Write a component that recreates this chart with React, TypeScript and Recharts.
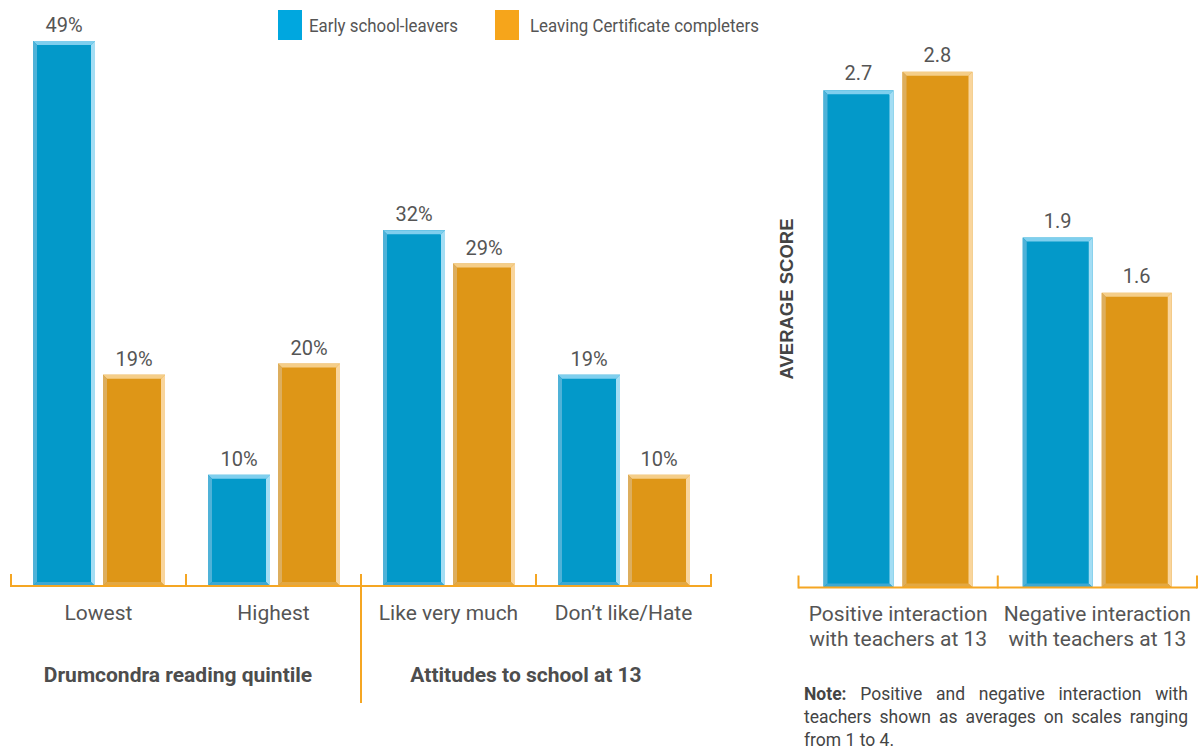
import React from 'react';
import { BarChart, Bar, XAxis, YAxis, LabelList } from 'recharts';

// ---------- data ----------
const leftCategories = ['Lowest', 'Highest', 'Like very much', 'Don\u2019t like/Hate'];
const leftEarly = [49, 10, 32, 19];
const leftLeaving = [19, 20, 29, 10];
const groupLabels = ['Drumcondra reading quintile', 'Attitudes to school at 13'];

const rightCategories = ['Positive interaction\nwith teachers at 13', 'Negative interaction\nwith teachers at 13'];
const rightEarly = [2.7, 1.9];
const rightLeaving = [2.8, 1.6];

const seriesNames = ['Early school-leavers', 'Leaving Certificate completers'];
const yLabelRight = 'AVERAGE SCORE';
const noteBold = 'Note:';
const noteText = ' Positive and negative interaction with teachers shown as averages on scales ranging from 1 to 4.';

const leftData = leftCategories.map((c, i) => ({ name: c, early: leftEarly[i], leaving: leftLeaving[i] }));
const rightData = rightCategories.map((c, i) => ({ name: c, early: rightEarly[i], leaving: rightLeaving[i] }));

// ---------- styles ----------
const FONT = 'Roboto, "Noto Sans", sans-serif';
const TEXT = '#555555';
const AXIS = '#F5A623';
const BLUE = { main: '#0399C9', top: '#7FCFEE', right: '#A3DDF4', left: '#4FB2D8', bottom: '#3DA8D3', legend: '#00A7DF' };
const ORANGE = { main: '#DE9617', top: '#F5CE89', right: '#F9D59C', left: '#DDAE5E', bottom: '#E3A843', legend: '#F6A51B' };

const makeBevel = (c: typeof BLUE) => (props: any) => {
  const { x, y, width: w, height: h } = props;
  if (!h || h <= 0) return null;
  const b = 4;
  return (
    <g>
      <rect x={x} y={y} width={w} height={h} fill={c.main} />
      <polygon points={`${x},${y} ${x + w},${y} ${x + w - b},${y + b} ${x + b},${y + b}`} fill={c.top} />
      <polygon points={`${x},${y} ${x + b},${y + b} ${x + b},${y + h - b} ${x},${y + h}`} fill={c.left} />
      <polygon points={`${x + w},${y} ${x + w},${y + h} ${x + w - b},${y + h - b} ${x + w - b},${y + b}`} fill={c.right} />
      <polygon points={`${x},${y + h} ${x + w},${y + h} ${x + w - b},${y + h - b} ${x + b},${y + h - b}`} fill={c.bottom} />
    </g>
  );
};
const BlueBar = makeBevel(BLUE);
const OrangeBar = makeBevel(ORANGE);

const boundaryLines = (props: any, dividerIndex: number | null) => {
  const { x, y, payload, index, visibleTicksCount, width } = props;
  const off = payload && payload.offset != null ? payload.offset : width / visibleTicksCount / 2;
  const els: any[] = [];
  els.push(
    <line key="l" x1={x - off} x2={x - off} y1={y - 12} y2={index === dividerIndex ? y + 117 : y + 1} stroke={AXIS} strokeWidth={2} />
  );
  if (index === visibleTicksCount - 1) {
    els.push(<line key="r" x1={x + off} x2={x + off} y1={y - 12} y2={y + 1} stroke={AXIS} strokeWidth={2} />);
  }
  return els;
};

const LeftTick = (props: any) => {
  const { x, y, payload } = props;
  return (
    <g>
      {boundaryLines(props, 2)}
      <text x={x} y={y + 34} textAnchor="middle" fontFamily={FONT} fontSize={21} fill={TEXT}>
        {payload.value}
      </text>
    </g>
  );
};

const RightTick = (props: any) => {
  const { x, y, payload } = props;
  const lines = String(payload.value).split('\n');
  return (
    <g>
      {boundaryLines(props, null)}
      <text textAnchor="middle" fontFamily={FONT} fontSize={21} fill={TEXT}>
        {lines.map((l, i) => (
          <tspan key={i} x={x} y={y + 33 + i * 25.5}>{l}</tspan>
        ))}
      </text>
    </g>
  );
};

const labelStyle = { fontFamily: FONT, fontSize: 20, fill: TEXT };

export default function App() {
  return (
    <div style={{ position: 'absolute', left: 0, top: 0, width: 1200, height: 748, background: '#fff', overflow: 'hidden' }}>
      {/* Left chart */}
      <div style={{ position: 'absolute', left: 0, top: 0 }}>
        <BarChart
          width={720}
          height={748}
          data={leftData}
          margin={{ top: 30, right: 9, left: 11, bottom: 132 }}
          barSize={62}
          barGap={8}
        >
          <XAxis
            dataKey="name"
            height={30}
            axisLine={{ stroke: AXIS, strokeWidth: 2 }}
            tickLine={false}
            tickSize={0}
            tickMargin={0}
            interval={0}
            tick={<LeftTick />}
          />
          <YAxis hide domain={[0, 50]} />
          <Bar dataKey="early" name={seriesNames[0]} shape={BlueBar} isAnimationActive={false}>
            <LabelList dataKey="early" position="top" offset={9} formatter={(v: any) => `${v}%`} style={labelStyle} />
          </Bar>
          <Bar dataKey="leaving" name={seriesNames[1]} shape={OrangeBar} isAnimationActive={false}>
            <LabelList dataKey="leaving" position="top" offset={9} formatter={(v: any) => `${v}%`} style={labelStyle} />
          </Bar>
        </BarChart>
      </div>

      {/* Right chart */}
      <div style={{ position: 'absolute', left: 720, top: 0 }}>
        <BarChart
          width={480}
          height={748}
          data={rightData}
          margin={{ top: 35, right: 3, left: 78.5, bottom: 130.5 }}
          barSize={70}
          barGap={9}
        >
          <XAxis
            dataKey="name"
            height={30}
            axisLine={{ stroke: AXIS, strokeWidth: 2 }}
            tickLine={false}
            tickSize={0}
            tickMargin={0}
            interval={0}
            tick={<RightTick />}
          />
          <YAxis hide domain={[0, 3]} />
          <Bar dataKey="early" name={seriesNames[0]} shape={BlueBar} isAnimationActive={false}>
            <LabelList dataKey="early" position="top" offset={10} style={labelStyle} />
          </Bar>
          <Bar dataKey="leaving" name={seriesNames[1]} shape={OrangeBar} isAnimationActive={false}>
            <LabelList dataKey="leaving" position="top" offset={10} style={labelStyle} />
          </Bar>
        </BarChart>
      </div>

      {/* Overlay texts: legend, group labels, y label */}
      <svg width={1200} height={748} style={{ position: 'absolute', left: 0, top: 0, pointerEvents: 'none' }}>
        <rect x={278} y={10} width={24} height={30} fill={BLUE.legend} />
        <text x={309} y={32} fontFamily={FONT} fontSize={19} fill={TEXT} textLength={149} lengthAdjust="spacingAndGlyphs">
          {seriesNames[0]}
        </text>
        <rect x={495} y={10} width={24} height={30} fill={ORANGE.legend} />
        <text x={530} y={32} fontFamily={FONT} fontSize={19} fill={TEXT} textLength={229} lengthAdjust="spacingAndGlyphs">
          {seriesNames[1]}
        </text>

        <text x={178} y={682} textAnchor="middle" fontFamily={FONT} fontSize={21} fontWeight={700} fill="#4D4D4D">
          {groupLabels[0]}
        </text>
        <text x={526} y={682} textAnchor="middle" fontFamily={FONT} fontSize={21} fontWeight={700} fill="#4D4D4D">
          {groupLabels[1]}
        </text>

        <text
          transform="translate(793,299) rotate(-90)"
          textAnchor="middle"
          fontFamily='"Liberation Sans", Arial, sans-serif'
          fontSize={18.5}
          fontWeight={700}
          fill="#444444"
        >
          {yLabelRight}
        </text>
      </svg>

      {/* Note */}
      <div
        style={{
          position: 'absolute',
          left: 804,
          top: 683,
          width: 384,
          fontFamily: FONT,
          fontSize: 17.5,
          lineHeight: '23px',
          textAlign: 'justify',
          color: '#444444',
        }}
      >
        <b>{noteBold}</b>
        {noteText}
      </div>
    </div>
  );
}
